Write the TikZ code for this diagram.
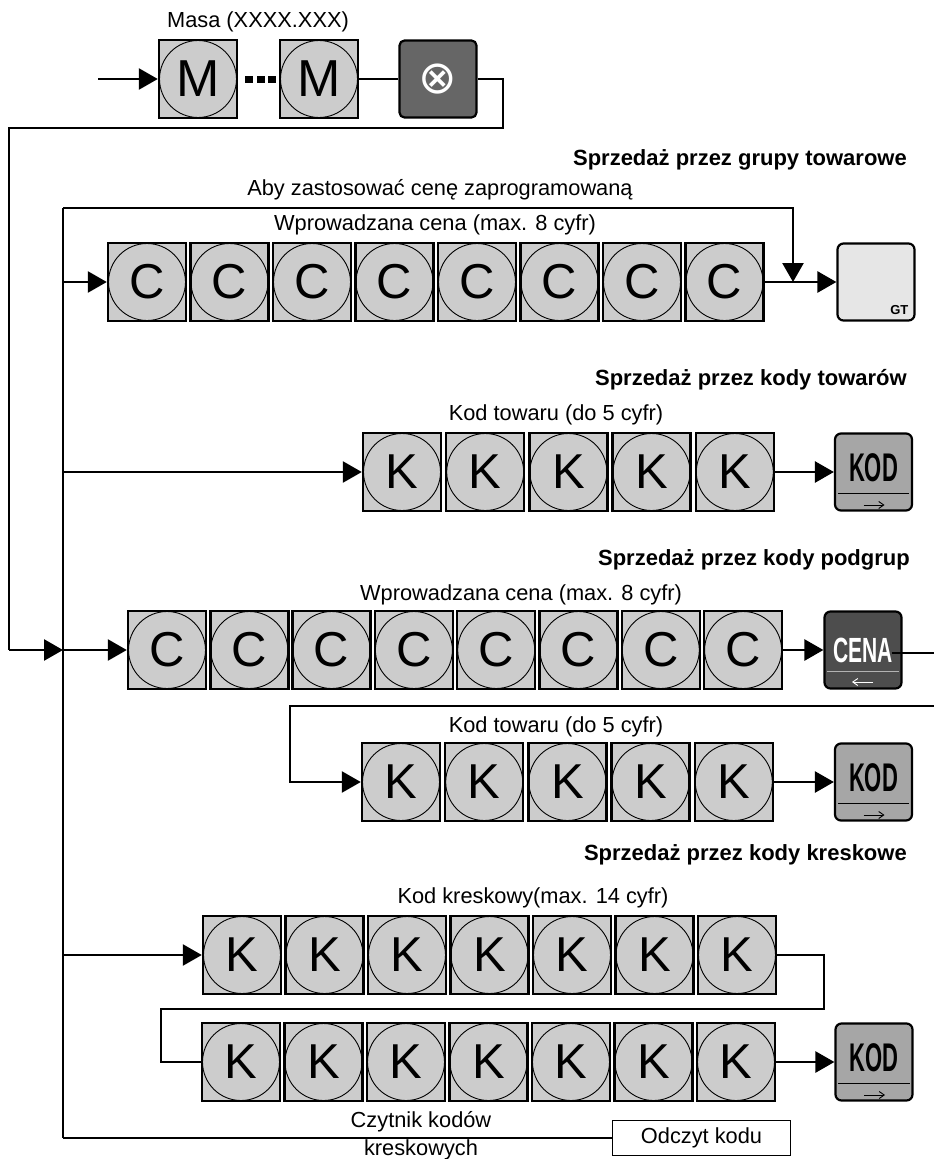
\documentclass[tikz,border=0pt]{standalone}
\usepackage{fontspec}
\setmainfont{Liberation Sans}
\newfontfamily\symfont{DejaVu Sans}
\usetikzlibrary{arrows.meta}

\definecolor{keygray}{HTML}{CCCCCC}
\definecolor{gtgray}{HTML}{E6E6E6}
\definecolor{kodgray}{HTML}{A6A6A6}
\definecolor{cenagray}{HTML}{4D4D4D}
\definecolor{xgray}{HTML}{666666}

\tikzset{
  conn/.style={line width=2.6pt},
  arr/.style={conn,-{Triangle[length=19pt,width=21pt]}},
  digitkey/.style={draw,line width=2.4pt,fill=keygray,minimum width=78pt,minimum height=78pt,inner sep=0pt,
    font=\fontsize{49}{49}\selectfont,
    path picture={\draw[line width=0.9pt] (path picture bounding box.center) circle (38.5pt);}},
  funckey/.style={draw,line width=2.2pt,rounded corners=6pt,minimum width=77pt,minimum height=77pt,inner sep=0pt},
  lbl/.style={font=\fontsize{21.8}{21.8}\selectfont,inner sep=0pt},
  head/.style={font=\bfseries\fontsize{22}{22}\selectfont,inner sep=0pt,anchor=east},
  kodtxt/.style={font=\bfseries\fontsize{40}{40}\selectfont,inner sep=0pt},
  keyarrow/.style={line width=0.9pt,-{Straight Barb[length=5pt,width=7pt]}},
}

\begin{document}
\begin{tikzpicture}[x=1pt,y=-1pt]
\useasboundingbox (0,0) rectangle (934,1159);

% ---------- top: mass ----------
\node[lbl] (masa) at (258,22) {Masa (XXXX.XXX)};
\node[digitkey,font=\fontsize{52}{52}\selectfont] (m1) at (198,79) {M};
\node[digitkey,font=\fontsize{52}{52}\selectfont] (m2) at (319,79) {M};
\fill (245,76) rectangle (253,83);
\fill (257,76) rectangle (265,83);
\fill (268,76) rectangle (276,83);
\node[funckey,fill=xgray,rounded corners=5pt] (xk) at (438,79) {};
\node[inner sep=0pt,font=\symfont\fontsize{46}{46}\selectfont,text=white] (xsym) at (xk.center) {⊗};

\coordinate (inM) at (98,79);
\coordinate (topR) at (503,128);
\coordinate (leftTop) at (9,128);
\coordinate (leftJ) at (9,650);
\coordinate (busJ) at (63,650);
\coordinate (busTop) at (63,208);
\coordinate (busBot) at (63,1138);
\coordinate (gtJ) at (793,282);

\draw[arr] (inM) -- (m1);
\draw[conn] (m2) -- (xk);
\draw[conn] (xk.east) -| (topR) -- (leftTop) -- (leftJ);
\draw[arr] (leftJ) -- (busJ);

% ---------- group sales ----------
\node[head] (h1) at (907,160) {Sprzedaż przez grupy towarowe};
\node[lbl] (aby) at (440,190) {Aby zastosować cenę zaprogramowaną};
\node[lbl] (wpr1) at (435,225) {Wprowadzana cena (max. 8 cyfr)};
\foreach \i in {1,...,8} \node[digitkey] (ca\i) at ({147+(\i-1)*82.5},282) {C};
\node[funckey,fill=gtgray] (gt) at (876,282) {};
\node[font=\bfseries\fontsize{13}{13}\selectfont,inner sep=0pt,anchor=south east] (gttxt) at ([xshift=-7pt,yshift=7pt]gt.south east) {GT};

\draw[conn] (busTop) -- (busBot);
\draw[arr] (busTop) -| (gtJ);
\draw[arr] (ca1.west -| busTop) -- (ca1.west);
\draw[arr] (ca8) -- (gt);

% ---------- item codes ----------
\node[head] (h2) at (907,380) {Sprzedaż przez kody towarów};
\node[lbl] (kt1) at (556,415) {Kod towaru (do 5 cyfr)};
\foreach \i in {1,...,5} \node[digitkey] (ka\i) at ({402+(\i-1)*83.2},472) {K};
\node[funckey,fill=kodgray] (kod1) at (873.5,472) {};
\node[kodtxt] (kod1t) at ([yshift=4pt]kod1.center) {\scalebox{0.55}[1]{KOD}};
\draw[line width=0.9pt] ([xshift=4pt,yshift=-21pt]kod1.west) -- ([xshift=-4pt,yshift=-21pt]kod1.east);
\draw[keyarrow] ([xshift=-10pt,yshift=-33pt]kod1.center) -- ([xshift=11pt,yshift=-33pt]kod1.center);
\draw[arr] (ka1.west -| busTop) -- (ka1.west);
\draw[arr] (ka5) -- (kod1);

% ---------- subgroup codes ----------
\node[head] (h3) at (910,560) {Sprzedaż przez kody podgrup};
\node[lbl] (wpr2) at (521,595) {Wprowadzana cena (max. 8 cyfr)};
\foreach \i in {1,...,8} \node[digitkey] (cb\i) at ({167+(\i-1)*82.3},650) {C};
\node[funckey,fill=cenagray] (cena) at (863,650) {};
\node[kodtxt,text=white,font=\bfseries\fontsize{35}{35}\selectfont] (cenat) at ([yshift=0pt]cena.center) {\scalebox{0.6}[1]{CENA}};
\draw[line width=0.9pt,gray!60] ([xshift=4pt,yshift=-21pt]cena.west) -- ([xshift=-4pt,yshift=-21pt]cena.east);
\draw[keyarrow,white] ([xshift=10pt,yshift=-32pt]cena.center) -- ([xshift=-11pt,yshift=-32pt]cena.center);
\draw[arr] (busJ) -- (cb1.west);
\draw[arr] (cb8) -- (cena);
\coordinate (cenaOut) at (892,653);
\coordinate (rtA) at (934,653);
\draw[conn] (cenaOut) -- (rtA);

\node[lbl] (kt2) at (556,727) {Kod towaru (do 5 cyfr)};
\foreach \i in {1,...,5} \node[digitkey] (kb\i) at ({401+(\i-1)*83.2},782) {K};
\node[funckey,fill=kodgray] (kod2) at (873.5,782) {};
\node[kodtxt] (kod2t) at ([yshift=4pt]kod2.center) {\scalebox{0.55}[1]{KOD}};
\draw[line width=0.9pt] ([xshift=4pt,yshift=-21pt]kod2.west) -- ([xshift=-4pt,yshift=-21pt]kod2.east);
\draw[keyarrow] ([xshift=-10pt,yshift=-33pt]kod2.center) -- ([xshift=11pt,yshift=-33pt]kod2.center);
\coordinate (rtB) at (934,706);
\coordinate (kbL) at (290,706);
\draw[arr] (rtB) -- (kbL) |- (kb1.west);
\draw[arr] (kb5) -- (kod2);

% ---------- barcodes ----------
\node[head] (h4) at (907,855) {Sprzedaż przez kody kreskowe};
\node[lbl] (kk) at (533,898) {Kod kreskowy(max. 14 cyfr)};
\foreach \i in {1,...,7} \node[digitkey] (kc\i) at ({242+(\i-1)*82.5},955) {K};
\foreach \i in {1,...,7} \node[digitkey] (kd\i) at ({241+(\i-1)*82.5},1062) {K};
\node[funckey,fill=kodgray] (kod3) at (874,1062) {};
\node[kodtxt] (kod3t) at ([yshift=4pt]kod3.center) {\scalebox{0.55}[1]{KOD}};
\draw[line width=0.9pt] ([xshift=4pt,yshift=-21pt]kod3.west) -- ([xshift=-4pt,yshift=-21pt]kod3.east);
\draw[keyarrow] ([xshift=-10pt,yshift=-33pt]kod3.center) -- ([xshift=11pt,yshift=-33pt]kod3.center);
\coordinate (rc) at (824,1009);
\coordinate (lc) at (161,1009);
\draw[arr] (kc1.west -| busTop) -- (kc1.west);
\draw[conn] (kc7.east) -| (rc) -- (lc) |- (kd1.west);
\draw[arr] (kd7) -- (kod3);

% ---------- reader ----------
\node[draw,line width=1.8pt,minimum width=178pt,minimum height=35pt,inner sep=0pt,font=\fontsize{21.8}{21.8}\selectfont] (odczyt) at (701.5,1138) {Odczyt kodu};
\node[lbl] (czyt1) at (421,1122) {Czytnik kodów};
\node[lbl] (czyt2) at (421,1150) {kreskowych};
\draw[conn] (busBot) -- (odczyt.west);
\end{tikzpicture}
\end{document}
